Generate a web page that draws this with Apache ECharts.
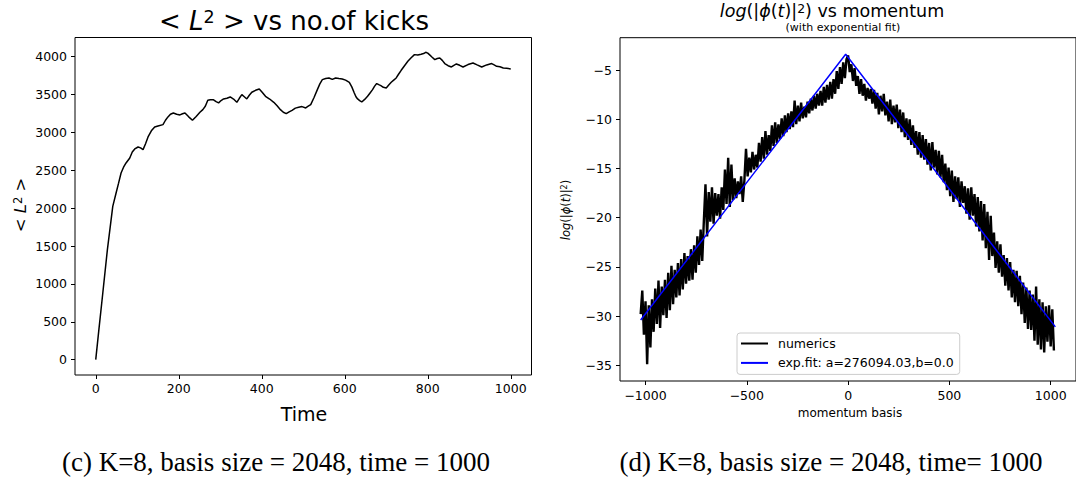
<!DOCTYPE html>
<html>
<head>
<meta charset="utf-8">
<script src="https://cdn.jsdelivr.net/npm/echarts@6/dist/echarts.min.js"></script>
<style>
  html, body { margin: 0; padding: 0; background: #fff; }
  #chart { width: 1076px; height: 479px; }
</style>
</head>
<body>
<div id="chart"></div>
<script>
// <L^2> against the number of kicks
const kickTimes = [
  0, 8, 17, 28, 41, 49, 55, 61, 67, 73, 82, 88, 94, 102, 108, 114, 120, 126, 134, 142,
  150, 162, 168, 174, 180, 187, 195, 203, 209, 215, 224, 233, 242, 251, 258, 264, 270, 276, 283, 290,
  296, 302, 308, 316, 324, 332, 340, 346, 352, 358, 364, 370, 376, 385, 394, 401, 409, 419, 429, 437,
  445, 452, 459, 466, 473, 481, 489, 497, 506, 512, 518, 526, 534, 540, 546, 554, 562, 570, 578, 586,
  594, 602, 611, 617, 623, 627, 631, 636, 641, 648, 655, 661, 667, 672, 677, 682, 687, 693, 700, 706,
  712, 718, 724, 730, 736, 744, 752, 760, 768, 776, 784, 790, 795, 800, 804, 810, 817, 823, 829, 835,
  841, 849, 857, 863, 869, 877, 885, 897, 909, 919, 930, 942, 954, 960, 966, 974, 982, 990, 1000
];
const kickL2 = [
  0, 420, 880, 1450, 2024, 2200, 2330, 2464, 2540, 2596, 2662, 2740, 2781, 2807, 2795, 2772, 2850, 2940, 3020, 3072,
  3085, 3102, 3160, 3204, 3240, 3256, 3240, 3230, 3245, 3256, 3205, 3159, 3210, 3265, 3300, 3344, 3423, 3430, 3432, 3405,
  3389, 3420, 3441, 3450, 3467, 3440, 3397, 3450, 3498, 3470, 3441, 3490, 3529, 3555, 3573, 3530, 3476, 3440, 3397, 3350,
  3300, 3265, 3247, 3270, 3291, 3320, 3331, 3340, 3322, 3345, 3366, 3460, 3564, 3640, 3696, 3710, 3718, 3700, 3718, 3710,
  3705, 3690, 3661, 3600, 3520, 3470, 3441, 3420, 3401, 3435, 3476, 3520, 3564, 3610, 3644, 3630, 3617, 3595, 3586, 3625,
  3661, 3690, 3718, 3770, 3819, 3880, 3938, 3985, 4026, 4020, 4031, 4040, 4057, 4045, 4026, 3995, 3960, 3975, 3982, 3950,
  3908, 3880, 3863, 3885, 3903, 3885, 3863, 3895, 3916, 3890, 3863, 3890, 3908, 3890, 3872, 3865, 3850, 3845, 3837
];
const timeTicks = [0, 200, 400, 600, 800, 1000];
const l2Ticks = [0, 500, 1000, 1500, 2000, 2500, 3000, 3500, 4000];

// log|phi(t)|^2 over the momentum basis, every 8th basis state from -1024
const momentumStart = -1024;
const momentumStep = 8;
const logPhi2 = [
  -29.8, -27.4, -31.9, -28.5, -34.9, -28.9, -33.2, -28.3,
  -31.6, -27.2, -30.8, -26.4, -31.2, -27.0, -29.9, -26.3,
  -30.2, -25.6, -29.4, -24.9, -28.8, -25.3, -28.1, -24.6,
  -27.9, -24.2, -27.3, -23.6, -26.7, -23.9, -26.4, -23.2,
  -26.3, -22.8, -25.6, -21.9, -24.8, -21.2, -24.4, -20.3,
  -16.6, -21.9, -17.4, -20.4, -16.9, -20.6, -17.5, -19.8,
  -17.6, -20.1, -16.9, -19.2, -15.1, -18.6, -13.9, -18.9,
  -14.6, -18.2, -16.0, -18.0, -16.3, -17.6, -15.8, -18.4,
  -16.2, -13.0, -15.8, -13.9, -15.4, -13.3, -15.1, -13.6,
  -14.9, -12.4, -14.3, -11.8, -14.0, -11.2, -13.6, -11.6,
  -13.2, -10.6, -12.7, -10.3, -12.4, -10.5, -12.0, -9.9,
  -11.7, -9.6, -11.3, -9.4, -11.0, -9.2, -10.8, -8.1,
  -10.5, -8.6, -10.2, -8.3, -9.9, -8.7, -9.8, -8.2,
  -9.4, -7.9, -9.1, -7.6, -8.9, -7.4, -8.6, -7.1,
  -8.6, -6.7, -8.3, -6.5, -8.0, -6.2, -7.9, -5.9,
  -7.4, -5.1, -6.9, -4.7, -6.4, -4.2, -5.8, -3.9,
  -3.5, -5.2, -4.4, -6.1, -4.8, -6.6, -5.6, -7.4,
  -5.9, -7.6, -6.4, -8.1, -6.8, -7.9, -6.9, -8.4,
  -7.0, -8.9, -7.3, -9.5, -7.6, -9.2, -7.4, -9.6,
  -8.2, -10.2, -8.0, -10.5, -8.6, -10.3, -8.5, -10.9,
  -9.0, -11.3, -9.3, -11.8, -9.9, -12.1, -10.0, -12.6,
  -10.6, -12.9, -11.2, -13.6, -11.3, -13.9, -11.6, -14.1,
  -12.0, -14.6, -12.4, -15.2, -12.3, -14.9, -13.1, -15.6,
  -13.2, -15.9, -13.6, -16.4, -14.5, -17.2, -14.9, -17.8,
  -15.2, -18.4, -15.8, -18.1, -15.9, -18.9, -16.3, -18.5,
  -16.8, -19.6, -17.0, -20.2, -16.9, -19.8, -17.6, -20.9,
  -17.9, -21.4, -18.3, -22.3, -18.6, -23.1, -19.4, -24.3,
  -19.8, -23.9, -21.5, -25.1, -22.4, -25.6, -22.7, -26.0,
  -23.8, -26.9, -24.1, -27.4, -24.5, -28.1, -25.3, -28.6,
  -25.4, -29.0, -25.9, -29.8, -26.6, -30.7, -27.1, -31.3,
  -27.4, -31.4, -27.8, -32.5, -27.0, -32.9, -28.3, -33.4,
  -28.6, -33.7, -29.0, -32.6, -28.9, -33.1, -29.3, -33.5
];
// exponential fit shown on the log scale
const fitMomentum = [-1024, -12, 1023];
const fitLogPhi2 = [-30.4, -3.38, -31.1];
const momentumTicks = [-1000, -500, 0, 500, 1000];
const logTicks = [-35, -30, -25, -20, -15, -10, -5];

const FONT = 'DejaVu Sans';
const minus = v => String(v).replace('-', '\u2212');

const kickData = kickTimes.map((t, i) => [t, kickL2[i]]);
const phiData = logPhi2.map((v, i) => [momentumStart + i * momentumStep, v]);
const fitData = fitMomentum.map((m, i) => [m, fitLogPhi2[i]]);

function valueAxis(gridIndex, min, max, ticks, margin) {
  return {
    type: 'value', gridIndex, min, max,
    splitLine: { show: false },
    axisLine: { show: false, onZero: false },
    axisTick: { show: true, inside: false, length: 4, customValues: ticks,
                lineStyle: { color: '#000', width: 1 } },
    axisLabel: { customValues: ticks, margin, color: '#000', fontFamily: FONT,
                 fontSize: 12.5, formatter: minus }
  };
}

function mathText(x, y, rot, body, size, supSize, extra) {
  return Object.assign({ type: 'text', x, y, rotation: rot, style: {
    text: body, align: 'center', verticalAlign: 'middle',
    rich: {
      n: { fontFamily: FONT, fontSize: size, fill: '#000' },
      i: { fontFamily: FONT, fontSize: size, fontStyle: 'italic', fill: '#000' },
      s: { fontFamily: FONT, fontSize: supSize, fill: '#000', verticalAlign: 'top' }
    } } }, extra || {});
}

const chart = echarts.init(document.getElementById('chart'), null, { renderer: 'svg' });
chart.setOption({
  animation: false,
  backgroundColor: '#fff',
  grid: [
    { left: 75, top: 37.5, width: 456.5, height: 337.5, show: true,
      borderColor: '#000', borderWidth: 1, backgroundColor: 'transparent' },
    { left: 620, top: 37.7, width: 459, height: 343.3, show: true,
      borderColor: '#000', borderWidth: 1, backgroundColor: 'transparent' }
  ],
  xAxis: [
    valueAxis(0, -50, 1050, timeTicks, 7),
    valueAxis(1, -1126, 1125, momentumTicks, 8)
  ],
  yAxis: [
    valueAxis(0, -202, 4252, l2Ticks, 8),
    valueAxis(1, -36.6, -1.7, logTicks, 8)
  ],
  legend: {
    data: ['numerics', 'exp.fit: a=276094.03,b=0.0'],
    orient: 'vertical',
    left: 737, top: 333,
    padding: [3, 6, 4, 4],
    itemGap: 4.4,
    itemWidth: 27, itemHeight: 2,
    icon: 'rect',
    backgroundColor: 'rgba(255,255,255,0.85)',
    borderColor: '#cccccc', borderWidth: 1, borderRadius: 3,
    textStyle: { fontFamily: FONT, fontSize: 12.5, color: '#000', lineHeight: 15,
                 padding: [0, 0, 0, 5] }
  },
  series: [
    { name: 'L2', type: 'line', xAxisIndex: 0, yAxisIndex: 0, data: kickData,
      showSymbol: false, symbol: 'none', lineStyle: { color: '#000', width: 1.5 } },
    { name: 'numerics', type: 'line', xAxisIndex: 1, yAxisIndex: 1, data: phiData,
      showSymbol: false, symbol: 'none', color: '#000',
      lineStyle: { color: '#000', width: 2.4, join: 'miter' } },
    { name: 'exp.fit: a=276094.03,b=0.0', type: 'line', xAxisIndex: 1, yAxisIndex: 1, data: fitData,
      showSymbol: false, symbol: 'none', color: '#0000ff',
      lineStyle: { color: '#0000ff', width: 1.5 } }
  ],
  graphic: [
    mathText(294, 21, 0, '{n|< }{i|L}{s|2}{n| > vs no.of kicks}', 26, 17.5),
    mathText(20, 205, Math.PI / 2, '{n|< }{i|L}{s|2}{n| >}', 16.5, 11.5),
    { type: 'text', x: 304, y: 414, style: {
        text: 'Time', align: 'center', verticalAlign: 'middle',
        fontFamily: FONT, fontSize: 19, fill: '#000' } },
    mathText(832, 11, 0, '{i|log}{n|(|}{i|ϕ}{n|(}{i|t}{n|)|}{s|2}{n|) vs momentum}', 17.5, 12.5),
    { type: 'text', x: 843, y: 27, style: {
        text: '(with exponential fit)', align: 'center', verticalAlign: 'middle',
        fontFamily: FONT, fontSize: 11, fill: '#000' } },
    mathText(566, 210, Math.PI / 2, '{i|log}{n|(|}{i|ϕ}{n|(}{i|t}{n|)|}{s|2}{n|)}', 11.5, 8),
    { type: 'text', x: 850, y: 413, style: {
        text: 'momentum basis', align: 'center', verticalAlign: 'middle',
        fontFamily: FONT, fontSize: 12, fill: '#000' } },
    { type: 'text', x: 276, y: 461, scaleX: 0.965, style: {
        text: '(c) K=8, basis size = 2048, time = 1000', align: 'center', verticalAlign: 'middle',
        fontFamily: 'Liberation Serif', fontSize: 28, fill: '#000' } },
    { type: 'text', x: 831, y: 461, scaleX: 0.965, style: {
        text: '(d) K=8, basis size = 2048, time= 1000', align: 'center', verticalAlign: 'middle',
        fontFamily: 'Liberation Serif', fontSize: 28, fill: '#000' } }
  ]
});
</script>
</body>
</html>
